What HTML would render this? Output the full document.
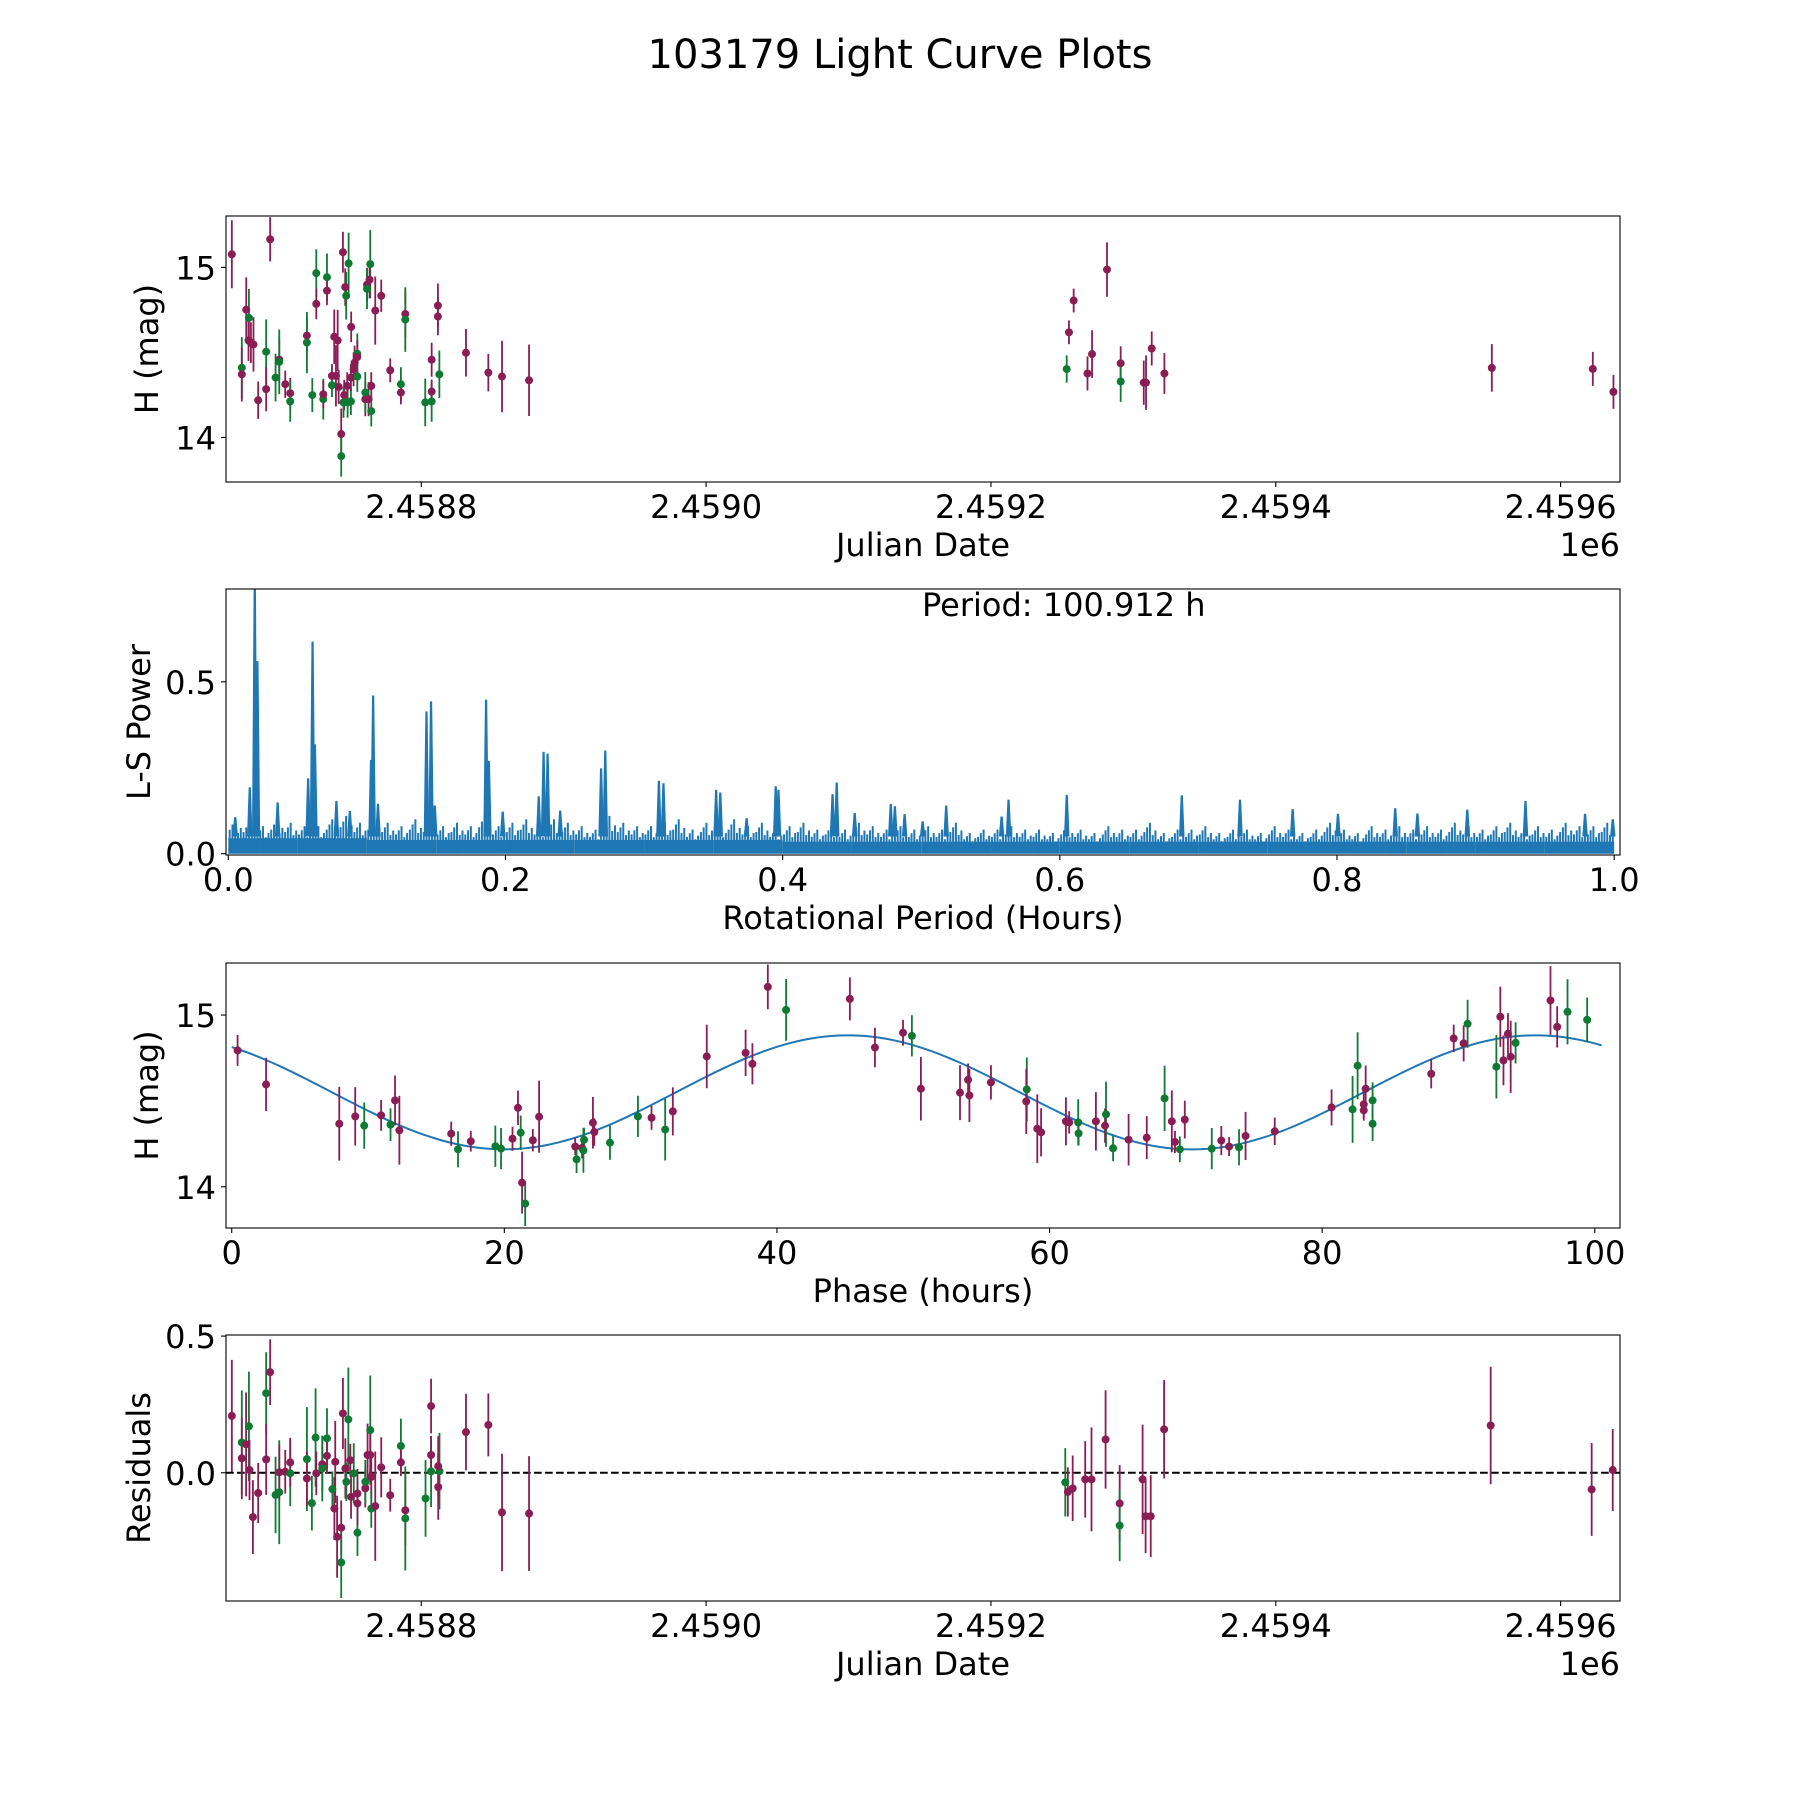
<!DOCTYPE html>
<html><head><meta charset="utf-8"><title>103179 Light Curve Plots</title>
<style>html,body{margin:0;padding:0;background:#fff}svg{display:block}text{font-family:"DejaVu Sans","Liberation Sans",sans-serif;fill:#000}</style>
</head><body>
<svg id="fig" xmlns="http://www.w3.org/2000/svg" width="1800" height="1800" viewBox="0 0 1800 1800">
<rect width="1800" height="1800" fill="#fff"/>
<text x="900" y="68" font-size="40" text-anchor="middle">103179 Light Curve Plots</text>
</svg>
<script>
// ---------- Panel 1: light curve (days since JD 2458800) ----------
const lcDays = [-133.0,-106.1,-122.9,-121.0,-121.3,-119.6,-117.8,-126.0,-126.0,-114.5,-108.9,-108.9,-102.3,-99.7,-99.7,-95.5,-92.0,-92.0,-80.3,-80.3,-76.5,-73.7,-73.7,-68.8,-68.8,-66.2,-66.2,-61.1,-58.7,-62.7,-62.7,-59.9,-58.0,-55.0,-51.0,-53.4,-52.7,-49.2,-56.2,-56.2,-54.1,-54.6,-51.7,-49.4,-52.0,-49.4,-44.9,-44.9,-46.8,-47.5,-44.9,-39.3,-39.3,-37.0,-35.1,-35.1,-35.8,-38.1,-38.1,-36.3,-28.1,-32.3,-21.8,-14.3,-14.3,-11.2,-11.2,2.8,7.3,7.3,7.3,12.7,11.7,11.7,31.4,47.1,56.7,75.7,453.2,454.8,458.1,467.8,471.0,481.5,491.1,491.1,507.3,508.9,512.9,521.8,751.7,822.6,837.1];
const lcMag = [15.077,15.165,14.751,14.703,14.570,14.557,14.547,14.410,14.371,14.219,14.504,14.284,14.352,14.457,14.445,14.313,14.260,14.212,14.599,14.558,14.249,14.966,14.785,14.225,14.254,14.942,14.863,14.592,14.570,14.362,14.307,14.362,14.297,15.089,15.024,14.884,14.833,14.650,14.020,13.890,14.249,14.206,14.206,14.212,14.303,14.352,14.492,14.473,14.440,14.401,14.358,14.225,14.264,14.225,14.303,14.155,15.019,14.898,14.874,14.927,14.833,14.746,14.395,14.313,14.264,14.726,14.693,14.206,14.212,14.270,14.457,14.371,14.775,14.711,14.498,14.381,14.358,14.336,14.402,14.618,14.805,14.376,14.490,14.987,14.436,14.329,14.322,14.322,14.523,14.376,14.409,14.403,14.268];
const lcErr = [0.20,0.13,0.19,0.17,0.12,0.12,0.16,0.18,0.16,0.11,0.19,0.13,0.14,0.12,0.19,0.08,0.09,0.12,0.10,0.18,0.10,0.14,0.09,0.12,0.08,0.14,0.085,0.16,0.18,0.07,0.07,0.18,0.10,0.12,0.18,0.11,0.14,0.09,0.15,0.12,0.09,0.09,0.09,0.08,0.08,0.08,0.12,0.10,0.10,0.10,0.09,0.10,0.12,0.10,0.08,0.09,0.20,0.10,0.12,0.11,0.095,0.20,0.07,0.10,0.07,0.14,0.19,0.14,0.12,0.07,0.10,0.14,0.13,0.11,0.14,0.11,0.21,0.21,0.08,0.07,0.07,0.10,0.14,0.16,0.10,0.12,0.13,0.16,0.10,0.12,0.14,0.10,0.10];
const lcBand = ["p","p","p","g","p","p","p","g","p","p","g","p","g","p","g","p","p","g","p","g","g","g","p","g","p","g","p","p","p","p","g","p","p","p","g","p","g","p","p","g","p","g","g","g","p","p","g","p","p","p","g","p","g","p","p","g","g","p","g","p","p","p","p","g","p","p","g","g","g","p","p","g","p","p","p","p","p","p","g","p","p","p","p","p","p","g","p","p","p","p","p","p","p"];

// ---------- Panel 2: periodogram ----------
const peakPeriods = [0.0191,0.021,0.0608,0.0625,0.0576,0.1045,0.103,0.143,0.1463,0.186,0.188,0.2275,0.2304,0.224,0.272,0.269,0.3107,0.314,0.352,0.355,0.395,0.397,0.439,0.436,0.478,0.481,0.005,0.0155,0.0356,0.078,0.0877,0.108,0.149,0.198,0.2395,0.374,0.452,0.488,0.518,0.563,0.605,0.688,0.730,0.768,0.8007,0.842,0.894,0.936,0.858,0.999,0.979,0.501,0.558];
const peakPowers = [0.80,0.56,0.617,0.318,0.219,0.46,0.273,0.414,0.443,0.448,0.27,0.296,0.291,0.167,0.30,0.248,0.212,0.205,0.186,0.178,0.196,0.186,0.207,0.173,0.145,0.138,0.106,0.193,0.149,0.153,0.124,0.145,0.14,0.122,0.125,0.103,0.118,0.115,0.14,0.157,0.171,0.17,0.157,0.13,0.116,0.132,0.128,0.153,0.117,0.10,0.116,0.094,0.108];
const noiseMax = [0.10,0.09,0.08,0.10,0.09,0.08,0.08,0.10,0.11,0.09,0.10,0.09,0.08,0.10,0.09,0.08,0.09,0.08,0.11,0.08,0.09,0.10,0.08,0.10,0.09,0.08,0.07,0.11,0.09,0.08,0.08,0.09,0.10,0.07,0.09,0.08,0.10,0.08,0.09,0.07,0.08,0.09,0.07,0.08,0.07,0.09,0.08,0.07,0.08,0.07,0.08,0.07,0.09,0.06,0.07,0.07,0.08,0.07,0.07,0.06,0.08,0.07,0.06,0.08,0.07,0.07,0.09,0.06,0.07,0.07,0.08,0.06,0.07,0.07,0.06,0.08,0.07,0.06,0.07,0.09,0.07,0.06,0.08,0.07,0.08,0.07,0.08,0.07,0.09,0.08,0.07,0.08,0.09,0.07,0.08,0.07,0.09,0.08,0.08,0.09];
const noiseFloor = [0.045,0.045,0.04,0.04,0.04,0.04,0.04,0.04,0.035,0.035,0.035,0.035,0.035,0.035,0.035,0.035,0.035,0.035,0.035,0.035];

// ---------- Panel 3: phased light curve ----------
const phHours = [0.43,2.52,7.89,9.06,9.72,10.96,11.65,11.98,12.3,16.1,16.6,17.54,19.34,19.76,20.6,21.0,21.2,21.3,21.53,22.09,22.55,25.2,25.3,25.7,25.8,25.85,26.5,26.6,27.75,29.8,30.8,31.8,32.36,34.85,37.7,38.2,39.33,40.67,45.35,47.19,49.25,49.9,50.56,53.43,54.02,54.12,55.7,58.33,58.29,59.1,59.38,61.2,61.44,62.1,62.13,63.4,64.14,64.07,64.66,65.8,67.13,68.44,68.97,69.2,69.92,69.56,71.9,72.6,73.17,73.9,74.38,76.52,80.69,82.23,82.6,83.05,83.05,83.19,83.7,83.7,88.0,89.65,90.38,90.67,92.78,93.07,93.3,93.63,93.83,94.19,96.75,97.24,98.0,99.44];
const phMag = [14.794,14.596,14.367,14.410,14.356,14.416,14.362,14.503,14.329,14.309,14.218,14.265,14.236,14.222,14.280,14.460,14.315,14.024,13.902,14.271,14.408,14.234,14.160,14.226,14.212,14.274,14.373,14.319,14.257,14.410,14.402,14.333,14.439,14.759,14.780,14.716,15.164,15.030,15.094,14.811,14.897,14.879,14.571,14.548,14.623,14.532,14.608,14.567,14.497,14.338,14.317,14.381,14.375,14.375,14.311,14.381,14.422,14.356,14.224,14.274,14.286,14.515,14.381,14.261,14.391,14.218,14.222,14.269,14.234,14.230,14.296,14.323,14.462,14.451,14.705,14.480,14.445,14.571,14.503,14.367,14.658,14.864,14.835,14.949,14.699,14.990,14.736,14.891,14.757,14.838,15.085,14.931,15.019,14.972];
const phErr = [0.09,0.155,0.215,0.17,0.135,0.09,0.095,0.145,0.2,0.07,0.105,0.06,0.12,0.12,0.07,0.1,0.1,0.18,0.13,0.065,0.21,0.05,0.08,0.06,0.13,0.07,0.15,0.08,0.1,0.12,0.07,0.18,0.14,0.185,0.135,0.12,0.13,0.18,0.125,0.115,0.075,0.12,0.185,0.16,0.095,0.155,0.1,0.185,0.19,0.2,0.14,0.14,0.065,0.135,0.07,0.17,0.19,0.1,0.075,0.15,0.125,0.19,0.18,0.065,0.11,0.075,0.12,0.085,0.055,0.105,0.14,0.08,0.105,0.195,0.195,0.08,0.06,0.135,0.105,0.1,0.085,0.08,0.105,0.14,0.185,0.175,0.145,0.12,0.21,0.12,0.2,0.12,0.19,0.13];
const phBand = ["p","p","p","p","g","p","g","p","p","p","g","p","g","g","p","p","g","p","g","p","p","p","g","p","g","g","p","p","g","g","p","g","p","p","p","p","p","g","p","p","p","g","p","p","p","p","p","g","p","p","p","p","p","g","g","p","g","p","g","p","p","g","p","p","p","g","g","p","p","g","p","p","p","g","g","p","p","p","g","g","p","p","p","g","g","p","p","p","p","g","p","p","g","g"];
const modelMean = 14.55;
const modelAmp = 0.332;
const modelPeakPhase = 45.2;
const modelPeriod = 100.912;

// ---------- Panel 4: residuals ----------
const resDays = [-133,-106.1,-108.9,-108.9,-126,-126,-123,-121,-120.6,-118.2,-114.5,-102.3,-99.7,-99.7,-95.5,-92,-92,-80.3,-80.3,-76.8,-74.2,-73.7,-69.5,-69.5,-66.2,-66.2,-62.4,-61,-59.1,-56.2,-56.2,-55,-51.2,-60.4,-53.3,-52.6,-49.8,-47.4,-49.3,-44.8,-44.8,-44.8,-39.3,-39.3,-37.7,-35.8,-35.8,-35.1,-35.1,-32.3,-28.1,-21.8,-14.3,-14.3,-11.2,-11.2,3,6.9,6.9,6.9,12.8,11.9,11.9,31.4,47.1,56.7,75.7,452.2,454,457.4,466.2,470.6,480.5,490.4,490.4,506.5,508.6,512.2,521.6,750.9,821.8,836.6];
const resVal = [0.208,0.368,0.291,0.049,0.111,0.053,0.104,0.170,0.010,-0.162,-0.074,-0.081,-0.071,0.002,0.004,-0.002,0.038,0.050,-0.021,-0.111,0.129,-0.002,0.031,0.016,0.126,0.062,-0.060,-0.131,-0.234,-0.201,-0.328,0.217,0.195,0.040,0.016,-0.033,0.046,-0.002,-0.088,-0.076,-0.219,-0.112,-0.057,-0.033,0.065,0.156,0.065,-0.015,-0.131,-0.122,0.020,-0.082,0.098,0.038,-0.137,-0.167,-0.094,0.005,0.065,0.244,0.006,0.024,-0.052,0.149,0.175,-0.145,-0.149,-0.035,-0.070,-0.057,-0.024,-0.024,0.122,-0.112,-0.193,-0.024,-0.159,-0.159,0.159,0.173,-0.061,0.010];
const resErr = [0.205,0.12,0.15,0.13,0.19,0.15,0.19,0.2,0.11,0.135,0.11,0.14,0.19,0.1,0.08,0.12,0.09,0.19,0.1,0.1,0.18,0.08,0.1,0.12,0.11,0.065,0.065,0.115,0.15,0.1,0.13,0.13,0.19,0.15,0.11,0.07,0.06,0.11,0.08,0.09,0.085,0.08,0.07,0.08,0.115,0.2,0.1,0.08,0.07,0.2,0.11,0.06,0.1,0.05,0.13,0.19,0.14,0.13,0.07,0.1,0.14,0.11,0.12,0.14,0.115,0.215,0.21,0.125,0.09,0.12,0.14,0.19,0.18,0.14,0.13,0.2,0.135,0.15,0.18,0.215,0.17,0.15];
const resBand = ["p","p","g","p","g","p","p","g","p","p","p","g","g","p","p","g","p","g","p","g","g","p","p","g","g","p","g","p","p","p","g","p","g","p","p","g","p","g","p","p","g","p","p","g","p","g","p","p","g","p","p","p","g","p","p","g","g","g","p","p","g","p","p","p","p","p","p","g","p","p","p","p","p","p","g","p","p","p","p","p","p","p"];

// ---------- axis tick data ----------
const jdTickDays = [0,200,400,600,800];
const jdTickLabels = ["2.4588","2.4590","2.4592","2.4594","2.4596"];
const magTicks = [14,15];
const periodTicks = [0,0.2,0.4,0.6,0.8,1.0];
const powerTicks = [0,0.5];
const phaseTicks = [0,20,40,60,80,100];
const resTicks = [0,0.5];

const NS = "http://www.w3.org/2000/svg";
const svg = document.getElementById("fig");
const PURPLE = "#891d54", GREEN = "#0e7a33", BLUE = "#1f77b4";

function mk(tag, attrs, parent){
  const e = document.createElementNS(NS, tag);
  for (const k in attrs) e.setAttribute(k, attrs[k]);
  (parent||svg).appendChild(e);
  return e;
}
function makeAxes(x0,x1,y0,y1,xmin,xmax,ymin,ymax){
  return {x0,x1,y0,y1,xmin,xmax,ymin,ymax,
    sx(v){return x0+(v-xmin)/(xmax-xmin)*(x1-x0);},
    sy(v){return y1-(v-ymin)/(ymax-ymin)*(y1-y0);}};
}
const A1 = makeAxes(226,1620,216,482,-137.1,841.7,13.738,15.302);
const A2 = makeAxes(226,1620,589,855,-0.00166,1.0042,-0.0038,0.770);
const A3 = makeAxes(226,1620,963,1228,-0.42,101.85,13.76,15.303);
const A4 = makeAxes(226,1620,1335,1601,-137.1,841.7,-0.469,0.504);

function clipFor(ax, id){
  const defs = mk("defs",{});
  const cp = mk("clipPath",{id:id},defs);
  mk("rect",{x:ax.x0,y:ax.y0,width:ax.x1-ax.x0,height:ax.y1-ax.y0},cp);
  return mk("g",{"clip-path":"url(#"+id+")"});
}
function frame(ax, name){
  const r = mk("rect",{x:ax.x0,y:ax.y0,width:ax.x1-ax.x0,height:ax.y1-ax.y0,fill:"none",stroke:"#000","stroke-width":1.1});
  
  
}
function xTicks(ax, vals, labels, name){
  vals.forEach((v,i)=>{
    const x = ax.sx(v);
    const t = mk("line",{x1:x,x2:x,y1:ax.y1,y2:ax.y1+5,stroke:"#000","stroke-width":1.1});
    
    
    const l = mk("text",{x:x,y:ax.y1+36,"font-size":32,"text-anchor":"middle"});
    l.textContent = labels[i];
    
    
  });
}
function yTicks(ax, vals, labels, name){
  vals.forEach((v,i)=>{
    const y = ax.sy(v);
    const t = mk("line",{x1:ax.x0-5,x2:ax.x0,y1:y,y2:y,stroke:"#000","stroke-width":1.1});
    
    
    const l = mk("text",{x:ax.x0-10,y:y+12,"font-size":32,"text-anchor":"end"});
    l.textContent = labels[i];
    
    
  });
}
function xLabel(ax, text, name){
  const l = mk("text",{x:(ax.x0+ax.x1)/2,y:ax.y1+74,"font-size":32,"text-anchor":"middle"});
  l.textContent = text;
  
  
}
function yLabel(ax, x, text, name){
  const cy = (ax.y0+ax.y1)/2;
  const l = mk("text",{x:x,y:cy,"font-size":32,"text-anchor":"middle","dominant-baseline":"central",transform:"rotate(-90 "+x+" "+cy+")"});
  l.textContent = text;
  
  
}
function offsetText(ax, name){
  const l = mk("text",{x:ax.x1,y:ax.y1+74,"font-size":32,"text-anchor":"end"});
  l.textContent = "1e6";
  
  
}
function errPoints(ax, g, xs, ys, es, bands, name){
  xs.forEach((xv,i)=>{
    const c = bands[i]==="g" ? GREEN : PURPLE;
    const x = ax.sx(xv);
    const e = mk("line",{x1:x,x2:x,y1:ax.sy(ys[i]+es[i]),y2:ax.sy(ys[i]-es[i]),stroke:c,"stroke-width":1.8},g);
    
    
  });
  xs.forEach((xv,i)=>{
    const c = bands[i]==="g" ? GREEN : PURPLE;
    const p = mk("circle",{cx:ax.sx(xv),cy:ax.sy(ys[i]),r:4,fill:c},g);
    
    
  });
}

// ----- Panel 1 -----
{
  const g = clipFor(A1,"c1");
  errPoints(A1,g,lcDays,lcMag,lcErr,lcBand,"light-curve");
  frame(A1,"light-curve-axes");
  xTicks(A1,jdTickDays,jdTickLabels,"light-curve");
  yTicks(A1,magTicks,["14","15"],"light-curve");
  xLabel(A1,"Julian Date","light-curve-x-axis-title");
  yLabel(A1,147,"H (mag)","light-curve-y-axis-title");
  offsetText(A1,"light-curve-x-offset");
}
// ----- Panel 2 -----
{
  const g = clipFor(A2,"c2");
  const y0 = A2.sy(0);
  noiseFloor.forEach((f,i)=>{
    const xa = Math.max(A2.sx(i*0.05), A2.sx(0)), xb = A2.sx((i+1)*0.05);
    const r = mk("rect",{x:xa,y:A2.sy(f),width:xb-xa,height:y0-A2.sy(f),fill:BLUE},g);
    
    
  });
  const subPos = [0.1,0.3,0.5,0.7,0.9];
  const subScale = [0.7,0.85,1.0,0.6,0.75];
  noiseMax.forEach((v,i)=>{
    subPos.forEach((frac,k)=>{
      const x = A2.sx((i+frac)*0.01);
      const l = mk("line",{x1:x,x2:x,y1:y0,y2:A2.sy(v*subScale[k]),stroke:BLUE,"stroke-width":2},g);
      
      
    });
  });
  peakPeriods.forEach((p,i)=>{
    const w = 0.0012;
    const pts = [[p-w,0.05],[p,peakPowers[i]],[p+w,0.05]].map(q=>A2.sx(q[0])+","+A2.sy(q[1])).join(" ");
    const l = mk("polyline",{points:pts,fill:BLUE,stroke:BLUE,"stroke-width":2.2},g);
    
    
  });
  frame(A2,"periodogram-axes");
  xTicks(A2,periodTicks,periodTicks.map(v=>v.toFixed(1)),"periodogram");
  yTicks(A2,powerTicks,powerTicks.map(v=>v.toFixed(1)),"periodogram");
  xLabel(A2,"Rotational Period (Hours)","periodogram-x-axis-title");
  yLabel(A2,139,"L-S Power","periodogram-y-axis-title");
  const t = mk("text",{x:922,y:616,"font-size":32});
  t.textContent = "Period: 100.912 h";
  
  
}
// ----- Panel 3 -----
{
  const g = clipFor(A3,"c3");
  const pts = [];
  for (let h=0; h<=100.9; h+=0.5){
    const m = modelMean + modelAmp*Math.cos(2*Math.PI*(h-modelPeakPhase)/(modelPeriod/2));
    pts.push(A3.sx(h)+","+A3.sy(m));
  }
  const c = mk("polyline",{points:pts.join(" "),fill:"none",stroke:BLUE,"stroke-width":2},g);
  
  
  errPoints(A3,g,phHours,phMag,phErr,phBand,"phased");
  frame(A3,"phased-axes");
  xTicks(A3,phaseTicks,phaseTicks.map(String),"phased");
  yTicks(A3,magTicks,["14","15"],"phased");
  xLabel(A3,"Phase (hours)","phased-x-axis-title");
  yLabel(A3,147,"H (mag)","phased-y-axis-title");
}
// ----- Panel 4 -----
{
  const g = clipFor(A4,"c4");
  const z = mk("line",{x1:A4.x0,x2:A4.x1,y1:A4.sy(0),y2:A4.sy(0),stroke:"#000","stroke-width":2,"stroke-dasharray":"7.7 3.3"},g);
  
  
  errPoints(A4,g,resDays,resVal,resErr,resBand,"residual");
  frame(A4,"residual-axes");
  xTicks(A4,jdTickDays,jdTickLabels,"residual");
  yTicks(A4,resTicks,resTicks.map(v=>v.toFixed(1)),"residual");
  xLabel(A4,"Julian Date","residual-x-axis-title");
  yLabel(A4,139,"Residuals","residual-y-axis-title");
  offsetText(A4,"residual-x-offset");
}
</script>
</body></html>
